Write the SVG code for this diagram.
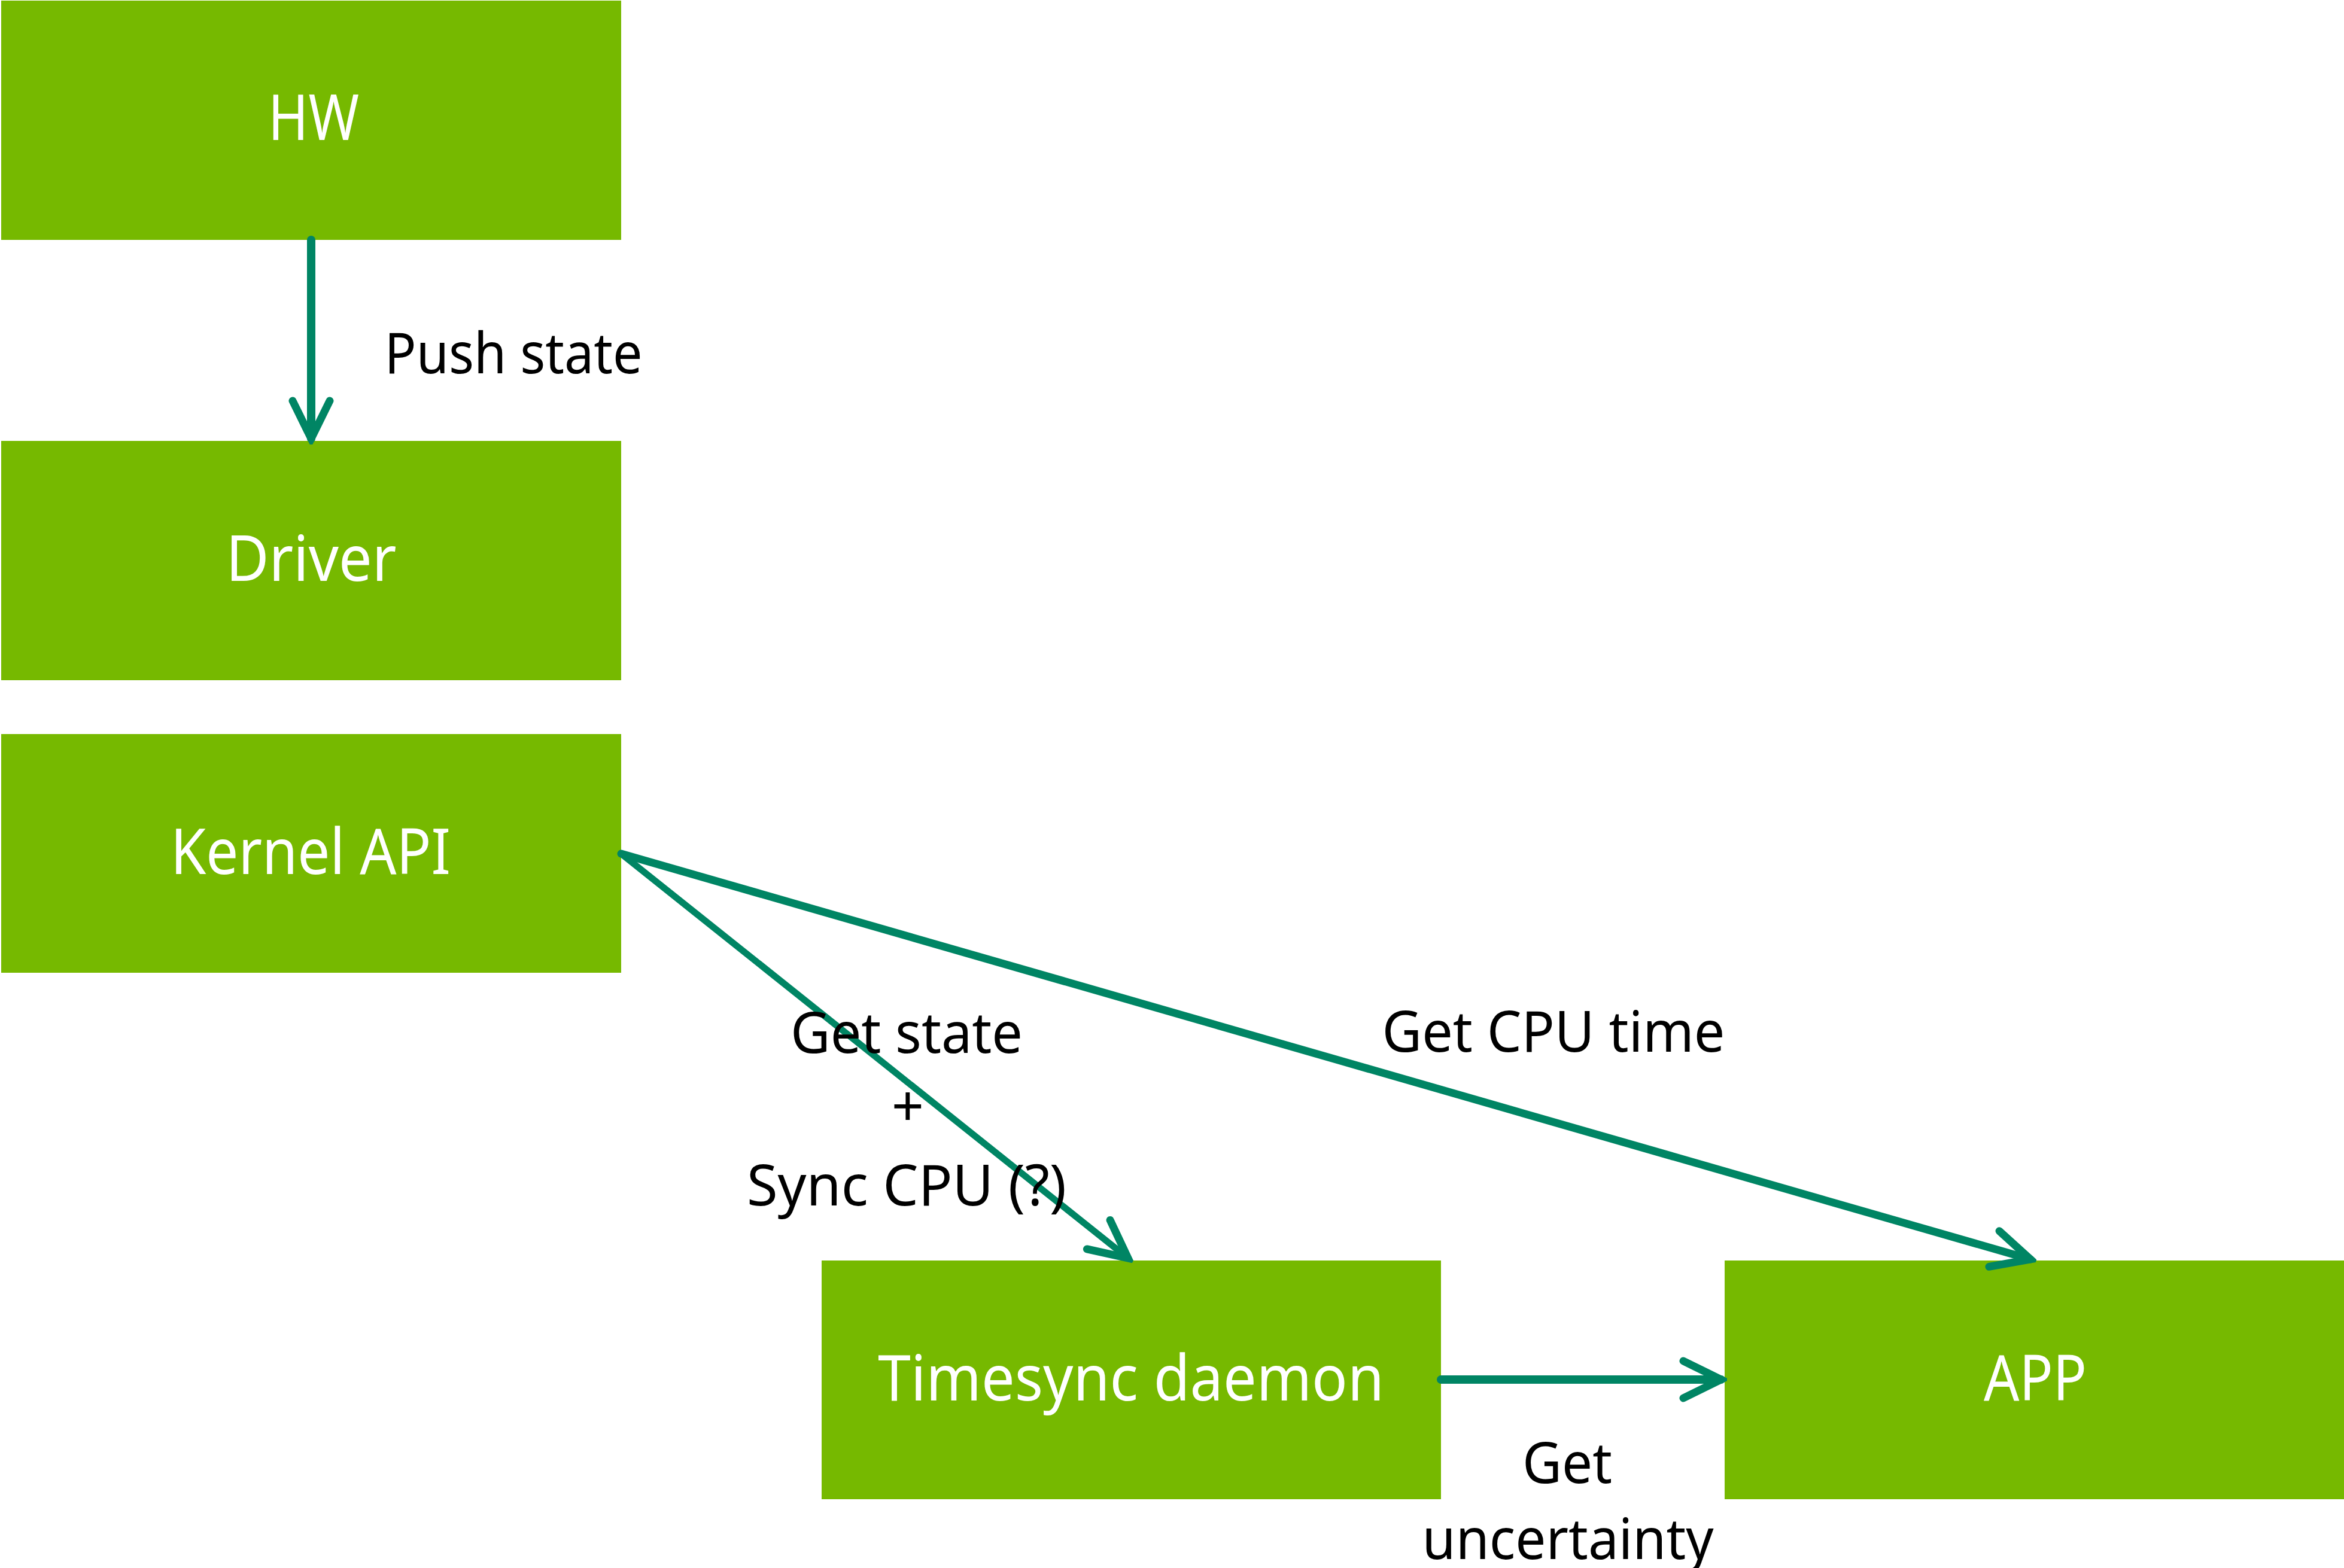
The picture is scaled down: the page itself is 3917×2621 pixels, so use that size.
<svg xmlns="http://www.w3.org/2000/svg" width="3917" height="2621" viewBox="0 0 3917 2621">
<style>
.box{fill:#76B900}
.bt{font-family:"Noto Sans","Liberation Sans",sans-serif;font-size:106px;fill:#ffffff;text-anchor:middle}
.lt{font-family:"Noto Sans","Liberation Sans",sans-serif;font-size:95px;fill:#000000;text-anchor:middle}
.edge{fill:none;stroke:#008564;stroke-linecap:round;stroke-linejoin:round}
</style>
<defs>
<marker id="arr" markerUnits="userSpaceOnUse" markerWidth="90" markerHeight="90" viewBox="-80 -45 90 90" refX="0" refY="0" orient="auto">
<path d="M-63,-31 L0,0 L-63,31" fill="none" stroke="#008564" stroke-width="13" stroke-linecap="round" stroke-linejoin="miter"/>
</marker>
</defs>
<rect width="3917" height="2621" fill="#ffffff"/>
<g id="hw"><rect class="box" x="2" y="1" width="1036" height="400"/><text class="bt" x="524" y="234" textLength="152" lengthAdjust="spacingAndGlyphs">HW</text></g>
<g id="driver"><rect class="box" x="2" y="737" width="1036" height="400"/><text class="bt" x="520" y="971" textLength="285" lengthAdjust="spacingAndGlyphs">Driver</text></g>
<g id="kernel"><rect class="box" x="2" y="1227" width="1036" height="399"/><text class="bt" x="519" y="1461" textLength="468" lengthAdjust="spacingAndGlyphs">Kernel API</text></g>
<g id="timesync"><rect class="box" x="1373" y="2107" width="1035" height="399"/><text class="bt" x="1890" y="2341" textLength="846" lengthAdjust="spacingAndGlyphs">Timesync daemon</text></g>
<g id="app"><rect class="box" x="2882" y="2107" width="1035" height="399"/><text class="bt" x="3401" y="2341" textLength="172" lengthAdjust="spacingAndGlyphs">APP</text></g>
<g id="connectors">
<line class="edge" x1="520" y1="401" x2="520" y2="733" stroke-width="14" marker-end="url(#arr)"/>
<line class="edge" x1="1038" y1="1427" x2="3393" y2="2105" stroke-width="13" marker-end="url(#arr)"/>
<line class="edge" x1="1038" y1="1427" x2="1885" y2="2103" stroke-width="11" marker-end="url(#arr)"/>
<line class="edge" x1="2408" y1="2306" x2="2876" y2="2306" stroke-width="14" marker-end="url(#arr)"/>
</g>
<g id="labels">
<text class="lt" x="858" y="624" textLength="431" lengthAdjust="spacingAndGlyphs">Push state</text>
<text class="lt" x="1515" y="1760" textLength="388" lengthAdjust="spacingAndGlyphs">Get state</text>
<text class="lt" x="1517" y="1883">+</text>
<text class="lt" x="1515" y="2015" textLength="534" lengthAdjust="spacingAndGlyphs">Sync CPU (?)</text>
<text class="lt" x="2596" y="1758" textLength="573" lengthAdjust="spacingAndGlyphs">Get CPU time</text>
<text class="lt" x="2619" y="2479" textLength="150" lengthAdjust="spacingAndGlyphs">Get</text>
<text class="lt" x="2620" y="2606" textLength="487" lengthAdjust="spacingAndGlyphs">uncertainty</text>
</g>
</svg>
